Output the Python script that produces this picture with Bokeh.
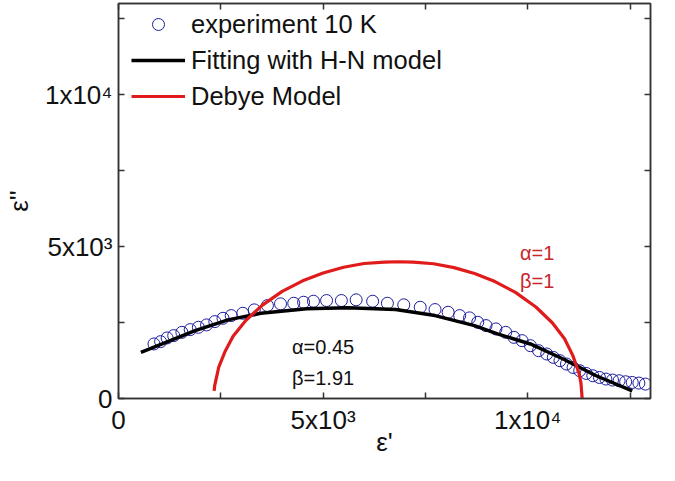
from bokeh.plotting import figure
from bokeh.models import FixedTicker, LinearAxis, Label, Legend, LegendItem, Range1d
from bokeh.embed import file_html
from bokeh.resources import INLINE

# ---- data ----
exp_x = [867, 1029, 1188, 1349, 1549, 1752, 1952, 2152, 2354, 2554, 2754, 3036, 3318, 3639,
         3959, 4282, 4523, 4764, 5084, 5446, 5807, 6210, 6571, 6971, 7373, 7735, 8055, 8337,
         8578, 8778, 8981, 9222, 9462, 9662, 9862, 10065, 10265, 10465, 10626, 10788, 10947,
         11108, 11270, 11429, 11590, 11752, 11911, 12072, 12233, 12393, 12554, 12716, 12875]
exp_y = [1795, 1871, 1993, 2069, 2178, 2267, 2343, 2422, 2531, 2640, 2729, 2805, 2917, 3059,
         3115, 3135, 3168, 3201, 3224, 3224, 3247, 3201, 3135, 3082, 3003, 2927, 2838, 2729,
         2653, 2508, 2399, 2290, 2178, 2013, 1904, 1739, 1574, 1465, 1353, 1244, 1135,
         1023, 914, 825, 749, 693, 640, 607, 584, 551, 528, 508, 475]

fit_x = [547, 1067, 1872, 2675, 3477, 4602, 5600, 6771, 7735, 8699, 9260, 10065, 10867, 11670, 12554]
fit_y = [1518, 1795, 2234, 2587, 2805, 2950, 2990, 2930, 2729, 2399, 2125, 1795, 1300, 749, 254]

debye_x = [2337, 2350, 2450, 2600, 2800, 3100, 3500, 4000, 4500, 5000, 5500, 6000, 6500, 6830,
           7200, 7700, 8200, 8700, 9200, 9700, 10200, 10600, 10900, 11100, 11250, 11300, 11330]
debye_y = [250, 424, 1032, 1535, 2047, 2553, 3056, 3524, 3873, 4133, 4320, 4443, 4490, 4500,
           4490, 4435, 4307, 4115, 3849, 3492, 3012, 2493, 1966, 1420, 845, 519, 0]

major_ticks = [0, 5000, 10000]
minor_ticks = [2500, 7500, 12500]
tick_labels = ["0", "5x10³", "1x10⁴"]

series_names = ["experiment 10 K", "Fitting with H-N model", "Debye Model"]

FONT = "Liberation Sans"
AX = "#333333"

p = figure(width=659, height=463, output_backend="svg", toolbar_location=None,
           x_range=Range1d(0, 13000), y_range=Range1d(0, 13000),
           min_border_left=111, min_border_right=9, min_border_top=3, min_border_bottom=65)
p.grid.visible = False
p.outline_line_color = AX
p.outline_line_width = 1.5
p.background_fill_color = "white"
p.border_fill_color = "white"

overrides = {t: l for t, l in zip(major_ticks, tick_labels)}

def style_ticks(ax):
    ax.major_tick_in = 6
    ax.major_tick_out = 0
    ax.minor_tick_in = 6
    ax.minor_tick_out = 0
    ax.axis_line_color = AX
    ax.axis_line_width = 1.5
    ax.major_tick_line_color = AX
    ax.major_tick_line_width = 1.5
    ax.minor_tick_line_color = AX
    ax.minor_tick_line_width = 1.5

xa = p.below[0]
ya = p.left[0]
for ax in (xa, ya):
    ax.ticker = FixedTicker(ticks=major_ticks, minor_ticks=minor_ticks)
    style_ticks(ax)
    ax.major_label_overrides = overrides
    ax.major_label_text_font = FONT
    ax.major_label_text_font_size = "26px"
    ax.major_label_text_color = "#111111"
    ax.major_label_standoff = 6
    ax.axis_label_text_font = FONT
    ax.axis_label_text_font_size = "26px"
    ax.axis_label_text_font_style = "normal"
    ax.axis_label_text_color = "#111111"
xa.axis_label = "ε'"
ya.axis_label = "ε''"
xa.axis_label_standoff = -11
ya.axis_label_standoff = 8

# mirrored tick marks (no labels) on top and right
for loc in ("right", "above"):
    ax = LinearAxis(ticker=FixedTicker(ticks=[], minor_ticks=sorted(major_ticks + minor_ticks)))
    style_ticks(ax)
    p.add_layout(ax, loc)

r_exp = p.scatter(exp_x, exp_y, marker="circle", size=12, fill_color=None,
                  line_color="#1c1ca0", line_width=1)
r_fit = p.line(fit_x, fit_y, line_color="black", line_width=3.5)
r_deb = p.line(debye_x, debye_y, line_color="#e01b1b", line_width=3.2)

legend = Legend(items=[LegendItem(label=series_names[0], renderers=[r_exp]),
                       LegendItem(label=series_names[1], renderers=[r_fit]),
                       LegendItem(label=series_names[2], renderers=[r_deb])],
                location=(13, 287), margin=0, padding=0,
                border_line_color=None, background_fill_alpha=0,
                label_text_font=FONT, label_text_font_size="25.5px", label_text_color="#111111",
                glyph_width=54, glyph_height=30, label_height=30, spacing=6, label_standoff=6)
p.add_layout(legend)

for txt, x, y, col in [("α=1", 9810, 4785, "#c8262b"), ("β=1", 9810, 3868, "#c8262b"),
                       ("α=0.45", 4240, 1700, "#111111"), ("β=1.91", 4240, 690, "#111111")]:
    p.add_layout(Label(x=x, y=y, text=txt, text_font=FONT, text_font_size="20px",
                       text_color=col, text_baseline="middle"))

open("out.html", "w").write(file_html(p, INLINE))
